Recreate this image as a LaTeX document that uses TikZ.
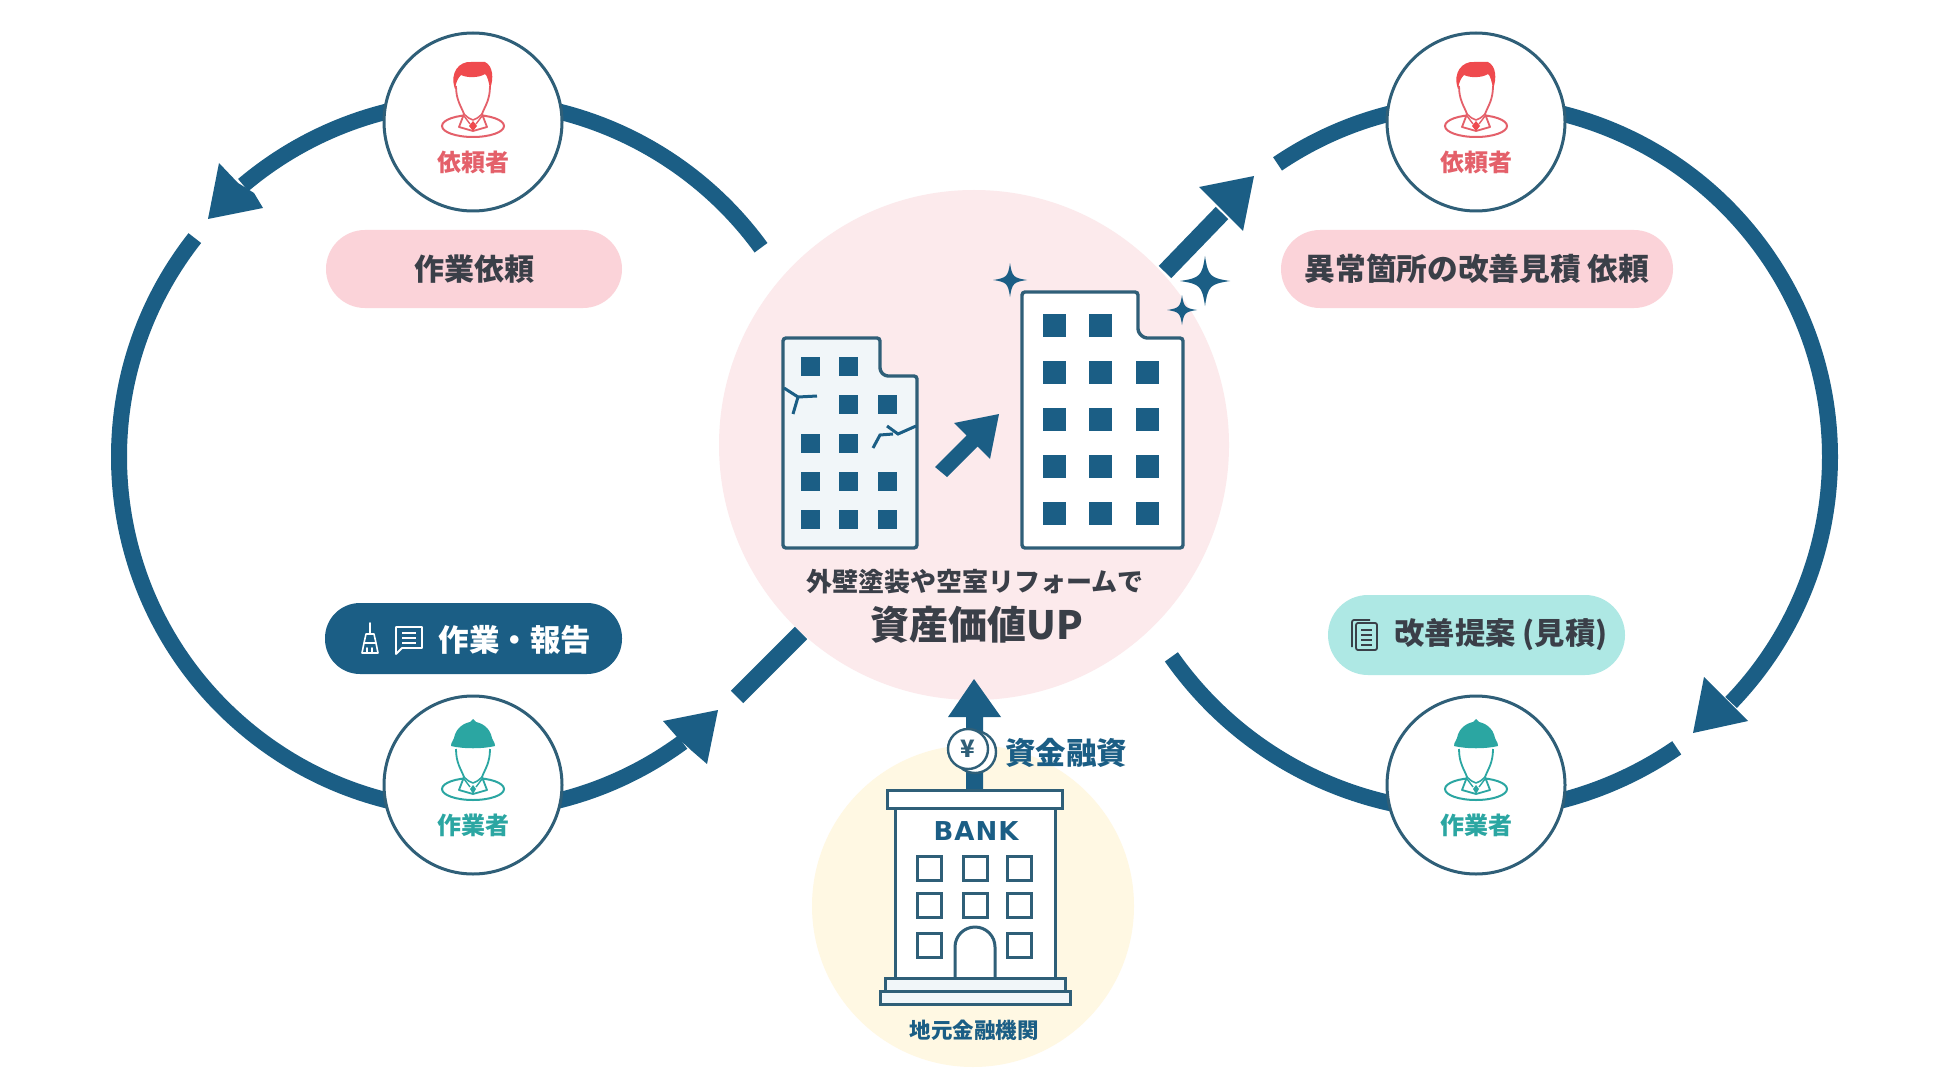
\documentclass[tikz,border=0pt]{standalone}
\usepackage{fontspec}
\setmainfont{Noto Sans CJK JP}
\newfontfamily\bankfont[LetterSpace=4]{DejaVu Sans}
\usetikzlibrary{calc}
\definecolor{navy}{HTML}{1B5E85}
\definecolor{ringc}{HTML}{2F5F78}
\definecolor{pinkbg}{HTML}{FCEAEC}
\definecolor{yellowbg}{HTML}{FFF8E3}
\definecolor{pinkpill}{HTML}{FBD3D9}
\definecolor{tealpill}{HTML}{AEE8E4}
\definecolor{redc}{HTML}{E4606A}
\definecolor{redh}{HTML}{EF4A4E}
\definecolor{tealc}{HTML}{2BA6A2}
\definecolor{ink}{HTML}{3A3F48}
\definecolor{bldfill}{HTML}{F1F6F9}
\newcommand\fs[1]{\fontsize{#1}{#1}\selectfont}
\newcommand\personline[1]{%
  \draw[#1,line width=2pt,fill=white] (0,4) ellipse [x radius=31,y radius=11];
  \draw[#1,line width=1.8pt,fill=white,line join=round] (-17,-36) .. controls (-17,-22) and (-12,-16) .. (-9,-8) -- (-14,5) -- (0,9) -- (14,5) -- (9,-8) .. controls (12,-16) and (17,-22) .. (17,-36);
  \draw[#1,line width=1.6pt,line join=round] (-9,-8) .. controls (-5,-4) and (-3,-3) .. (0,-2) .. controls (3,-3) and (5,-4) .. (9,-8);
  \draw[#1,line width=1.4pt] (-9,-6) -- (-3,2) (9,-6) -- (3,2);
}
\tikzset{
  ring/.style={navy,line width=16pt,line cap=butt},
  shaft/.style={navy,line width=17.5pt,line cap=butt},
  headfill/.style={fill=navy},
  who/.style={circle,draw=ringc,line width=3pt,fill=white,minimum size=178pt,inner sep=0pt},
  lbl/.style={inner sep=0pt,font=\bfseries},
  pics/client/.style={code={
    \personline{redc}
    \fill[redh] (0,9) -- (-4,4) -- (0,-1) -- (4,4) -- cycle;
    \fill[redh] (-18,-33) .. controls (-24,-50) and (-13,-61) .. (-2,-60) -- (12,-60) .. controls (20,-56) and (21,-44) .. (17,-33) .. controls (16,-40) and (14,-47) .. (12,-48) .. controls (6,-44) and (-6,-44) .. (-12,-47) .. controls (-15,-44) and (-17,-40) .. (-18,-33) -- cycle;
  }},
  pics/worker/.style={code={
    \personline{tealc}
    \fill[tealc] (0,9) -- (-3,4) -- (0,0) -- (3,4) -- cycle;
    \fill[tealc] (-22,-39) .. controls (-22,-44) and (-19,-44) .. (-19,-47) .. controls (-17,-58) and (-8,-62) .. (-3,-63) -- (0,-66) -- (3,-63) .. controls (8,-62) and (17,-58) .. (19,-47) .. controls (19,-44) and (22,-44) .. (22,-39) .. controls (10,-36) and (-10,-36) .. (-22,-39) -- cycle;
  }},
  pics/sparkle/.style={code={
    \fill[navy] (-#1,0) .. controls (-#1*0.2,-#1*0.12) and (-#1*0.12,-#1*0.2) .. (0,-#1)
      .. controls (#1*0.12,-#1*0.2) and (#1*0.2,-#1*0.12) .. (#1,0)
      .. controls (#1*0.2,#1*0.12) and (#1*0.12,#1*0.2) .. (0,#1)
      .. controls (-#1*0.12,#1*0.2) and (-#1*0.2,#1*0.12) .. (-#1,0) -- cycle;
  }},
}
\begin{document}
\begin{tikzpicture}[x=1pt,y=-1pt]
\useasboundingbox (0,0) rectangle (1950,1083);
\fill[white] (0,0) rectangle (1950,1083);

% backdrops
\node[circle,fill=pinkbg,minimum size=510pt,inner sep=0pt] (centre) at (974,445) {};
\node[circle,fill=yellowbg,minimum size=322pt,inner sep=0pt] (lender) at (973,906) {};

% rings
\coordinate (cL) at (473,457);
\coordinate (cR) at (1476,457);
\coordinate (cRb) at (1470,447);
\draw[ring] ($(cL)+(-36:356)$) arc[start angle=-36,end angle=-130.2,radius=356];
\fill[headfill] (208,219) -- (219,163) -- (238,183) -- (254,193) -- (263,208) -- cycle;
\draw[ring] ($(cL)+(-141.8:354)$) arc[start angle=-141.8,end angle=-306.3,radius=354];
\fill[headfill] (718,710) -- (663,721) -- (677,737) -- (692,751) -- (707,764) -- cycle;
\coordinate (dashA) at (737,697);
\coordinate (dashB) at (801,633);
\draw[shaft] (dashA) -- (dashB);

\coordinate (upS) at (1165,272);
\coordinate (upE) at (1222,213);
\draw[shaft] (upS) -- (upE);
\fill[headfill] (1254,176) -- (1199,187) -- (1243,231) -- cycle;
\draw[ring] ($(cR)+(-124.1:354)$) arc[start angle=-124.1,end angle=43.9,radius=354];
\fill[headfill] (1693,733) -- (1704,677) -- (1748,721) -- cycle;
\draw[ring] ($(cRb)+(55.5:365)$) arc[start angle=55.5,end angle=144.9,radius=365];

% person nodes
\node[who] (cl1) at (473,122) {};
\node[who] (wk1) at (473,785) {};
\node[who] (cl2) at (1476,122) {};
\node[who] (wk2) at (1476,785) {};
\pic at (cl1) {client};
\pic at (cl2) {client};
\pic at (wk1) {worker};
\pic at (wk2) {worker};
\node[lbl,text=redc,font=\bfseries\fs{24}] (tcl1) at (473,162) {依頼者};
\node[lbl,text=redc,font=\bfseries\fs{24}] (tcl2) at (1476,162) {依頼者};
\node[lbl,text=tealc,font=\bfseries\fs{24}] (twk1) at (473,825) {作業者};
\node[lbl,text=tealc,font=\bfseries\fs{24}] (twk2) at (1476,825) {作業者};

% pills
\fill[pinkpill,rounded corners=39pt] (326,230) rectangle (622,308);
\node[lbl,text=ink,font=\bfseries\fs{30}] (p1) at (474,269) {作業依頼};
\fill[pinkpill,rounded corners=39pt] (1281,230) rectangle (1673,308);
\node[lbl,text=ink,font=\bfseries\fs{30.7}] (p2) at (1477,269) {異常箇所の改善見積 依頼};
\fill[navy,rounded corners=35pt] (325,603) rectangle (622,674);
\node[lbl,text=white,font=\bfseries\fs{30.5}] (p3) at (515,640) {作業・報告};
\fill[tealpill,rounded corners=40pt] (1328,595) rectangle (1625,675);
\node[lbl,text=ink,font=\bfseries\fs{30.3}] (p4) at (1501,635) {改善提案 (見積)};

% broom icon
\draw[white,line width=1.6pt,line cap=round,line join=round] (370,623) -- (370,634) (366,634) -- (374,634) -- (376,643) -- (364,643) -- cycle (362,653) -- (364,643) (378,653) -- (376,643) (362,653) -- (378,653) (367,648) -- (367,653) (372,648) -- (372,653);
% speech bubble icon
\draw[white,line width=1.8pt,line join=round] (396,627) -- (422,627) -- (422,648) -- (402,648) -- (396,654) -- cycle;
\draw[white,line width=1.6pt] (402,633) -- (416,633) (402,638) -- (416,638) (402,643) -- (416,643);
% document icon
\draw[ink,line width=1.8pt,line join=round,rounded corners=2pt] (1352,647) -- (1352,620) -- (1370,620);
\draw[ink,line width=1.8pt,fill=tealpill,rounded corners=2pt] (1356,623) rectangle (1377,650);
\draw[ink,line width=1.6pt] (1361,630) -- (1372,630) (1361,635) -- (1372,635) (1361,640) -- (1372,640) (1361,645) -- (1372,645);

% damaged building
\draw[ringc,line width=3.4pt,fill=bldfill,rounded corners=3pt] (783,338) -- (880,338) -- (880,371) -- (885,376) -- (917,376) -- (917,548) -- (783,548) -- cycle;
\foreach \x/\y in {801/357,839/357,839/395,878/395,801/434,839/434,801/472,839/472,878/472,801/510,839/510,878/510}
  \fill[navy] (\x,\y) rectangle +(19,19);
\draw[navy,line width=3pt] (784,388) -- (798,397) -- (817,396) (798,397) -- (793,414);
\draw[navy,line width=3pt] (916,426) -- (898,434) -- (887,426) (893,434) -- (880,435) -- (873,448);
% good building
\draw[ringc,line width=3.4pt,fill=white,rounded corners=3pt] (1022,292) -- (1138,292) -- (1138,332) -- (1144,338) -- (1183,338) -- (1183,548) -- (1022,548) -- cycle;
\foreach \x/\y in {1043/314,1089/314,1043/361,1089/361,1136/361,1043/408,1089/408,1136/408,1043/455,1089/455,1136/455,1043/502,1089/502,1136/502}
  \fill[navy] (\x,\y) rectangle +(23,23);
% arrow between buildings
\fill[navy] (935,467) -- (966.5,435.5) -- (954,423) -- (999,414) -- (990,459) -- (977.5,446.5) -- (947,477) -- cycle;
% sparkles
\pic at (1010,280) {sparkle=17};
\pic at (1205,281) {sparkle=25};
\pic at (1182,310) {sparkle=15};

\node[lbl,text=ink,font=\bfseries\fs{26}] (t1) at (975,582) {外壁塗装や空室リフォームで};
\node[lbl,text=ink,font=\bfseries\fs{39}] (t2) at (977,625) {資産価値UP};

% bank
\fill[navy] (974,679) -- (1001,717) -- (983,717) -- (983,792) -- (966,792) -- (966,717) -- (948,717) -- cycle;
\draw[ringc,line width=2.4pt,fill=white] (975,752) circle (21);
\node[circle,draw=ringc,line width=2.4pt,fill=white,minimum size=40pt,inner sep=0pt,text=ringc,font=\bfseries\fs{24}] (coin) at (968,749) {¥};
\node[lbl,text=navy,font=\bfseries\fs{30.5}] (t3) at (1066,753) {資金融資};
\draw[ringc,line width=3pt,fill=white] (895,808) rectangle (1055,980);
\draw[ringc,line width=3pt,fill=white] (887,790) rectangle (1062,808);
\node[lbl,text=navy,font=\bfseries\bankfont\fs{26}] (t4) at (976,831) {BANK};
\foreach \x in {917,963,1007}
  \foreach \y in {856,893}
    \draw[ringc,line width=3pt,fill=white] (\x,\y) rectangle +(24,24);
\foreach \x in {917,1007}
  \draw[ringc,line width=3pt,fill=white] (\x,933) rectangle +(24,24);
\draw[ringc,line width=3pt,fill=white] (955,978) -- (955,947) arc[start angle=180,end angle=360,radius=20] -- (995,978);
\draw[ringc,line width=3pt,fill=bldfill] (885,978) rectangle (1065,991);
\draw[ringc,line width=3pt,fill=bldfill] (880,991) rectangle (1070,1004);
\node[lbl,text=navy,font=\bfseries\fs{21.5}] (t5) at (974,1030) {地元金融機関};
\end{tikzpicture}
\end{document}
